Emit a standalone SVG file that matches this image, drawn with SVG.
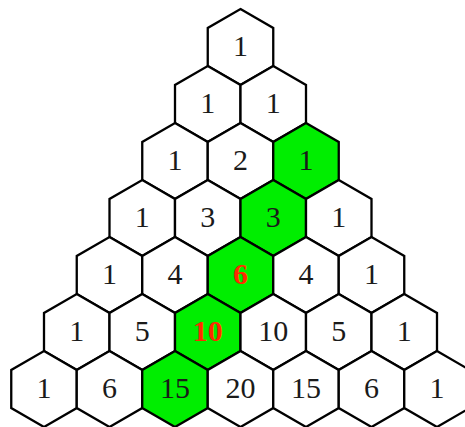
<svg xmlns="http://www.w3.org/2000/svg" xmlns:xlink="http://www.w3.org/1999/xlink" width="465" height="427" viewBox="0 0 465 427">
<style>
.h{fill:#ffffff;stroke:#000;stroke-width:2.3;stroke-linejoin:miter}
.g{fill:#00ee00;stroke:#000;stroke-width:2.3;stroke-linejoin:miter}
.t{font-family:"Liberation Serif","Times New Roman",serif;font-size:30px;fill:#1a1a1a;text-anchor:middle}
.r{font-family:"Liberation Serif","Times New Roman",serif;font-size:30px;font-weight:bold;fill:#ff2a00;text-anchor:middle}
</style>
<defs>
<polygon id="hex" points="0,-38 32.75,-19 32.75,19 0,38 -32.75,19 -32.75,-19"/>
</defs>
<g id="connectors"></g>
<g id="n0_0" transform="translate(240.5,47)"><use xlink:href="#hex" class="h"/><text class="t" y="8.5">1</text></g>
<g id="n1_0" transform="translate(207.75,104)"><use xlink:href="#hex" class="h"/><text class="t" y="8.5">1</text></g>
<g id="n1_1" transform="translate(273.25,104)"><use xlink:href="#hex" class="h"/><text class="t" y="8.5">1</text></g>
<g id="n2_0" transform="translate(175,161)"><use xlink:href="#hex" class="h"/><text class="t" y="8.5">1</text></g>
<g id="n2_1" transform="translate(240.5,161)"><use xlink:href="#hex" class="h"/><text class="t" y="8.5">2</text></g>
<g id="n2_2" transform="translate(306,161)"><use xlink:href="#hex" class="g"/><text class="t" y="8.5">1</text></g>
<g id="n3_0" transform="translate(142.25,218)"><use xlink:href="#hex" class="h"/><text class="t" y="8.5">1</text></g>
<g id="n3_1" transform="translate(207.75,218)"><use xlink:href="#hex" class="h"/><text class="t" y="8.5">3</text></g>
<g id="n3_2" transform="translate(273.25,218)"><use xlink:href="#hex" class="g"/><text class="t" y="8.5">3</text></g>
<g id="n3_3" transform="translate(338.75,218)"><use xlink:href="#hex" class="h"/><text class="t" y="8.5">1</text></g>
<g id="n4_0" transform="translate(109.5,275)"><use xlink:href="#hex" class="h"/><text class="t" y="8.5">1</text></g>
<g id="n4_1" transform="translate(175,275)"><use xlink:href="#hex" class="h"/><text class="t" y="8.5">4</text></g>
<g id="n4_2" transform="translate(240.5,275)"><use xlink:href="#hex" class="g"/><text class="r" y="8.5">6</text></g>
<g id="n4_3" transform="translate(306,275)"><use xlink:href="#hex" class="h"/><text class="t" y="8.5">4</text></g>
<g id="n4_4" transform="translate(371.5,275)"><use xlink:href="#hex" class="h"/><text class="t" y="8.5">1</text></g>
<g id="n5_0" transform="translate(76.75,332)"><use xlink:href="#hex" class="h"/><text class="t" y="8.5">1</text></g>
<g id="n5_1" transform="translate(142.25,332)"><use xlink:href="#hex" class="h"/><text class="t" y="8.5">5</text></g>
<g id="n5_2" transform="translate(207.75,332)"><use xlink:href="#hex" class="g"/><text class="r" y="8.5">10</text></g>
<g id="n5_3" transform="translate(273.25,332)"><use xlink:href="#hex" class="h"/><text class="t" y="8.5">10</text></g>
<g id="n5_4" transform="translate(338.75,332)"><use xlink:href="#hex" class="h"/><text class="t" y="8.5">5</text></g>
<g id="n5_5" transform="translate(404.25,332)"><use xlink:href="#hex" class="h"/><text class="t" y="8.5">1</text></g>
<g id="n6_0" transform="translate(44,389)"><use xlink:href="#hex" class="h"/><text class="t" y="8.5">1</text></g>
<g id="n6_1" transform="translate(109.5,389)"><use xlink:href="#hex" class="h"/><text class="t" y="8.5">6</text></g>
<g id="n6_2" transform="translate(175,389)"><use xlink:href="#hex" class="g"/><text class="t" y="8.5">15</text></g>
<g id="n6_3" transform="translate(240.5,389)"><use xlink:href="#hex" class="h"/><text class="t" y="8.5">20</text></g>
<g id="n6_4" transform="translate(306,389)"><use xlink:href="#hex" class="h"/><text class="t" y="8.5">15</text></g>
<g id="n6_5" transform="translate(371.5,389)"><use xlink:href="#hex" class="h"/><text class="t" y="8.5">6</text></g>
<g id="n6_6" transform="translate(437,389)"><use xlink:href="#hex" class="h"/><text class="t" y="8.5">1</text></g>
</svg>
